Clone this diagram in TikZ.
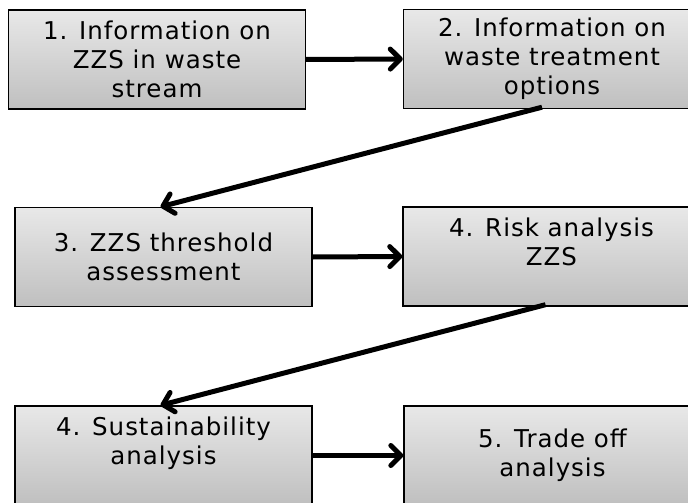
\documentclass[tikz,border=0pt]{standalone}
\usepackage{fontspec}
\newfontfamily\boxfont[LetterSpace=4]{DejaVu Sans}
\usetikzlibrary{arrows.meta}

\newcommand{\zzs}{ZZS}

\begin{document}
\begin{tikzpicture}[x=1pt,y=-1pt,
		stage/.style={draw,rectangle,line width=1.4pt,inner sep=0pt,
			minimum width=297pt,minimum height=99pt,align=center,
			top color=black!9,bottom color=black!25,
			font=\boxfont\fontsize{24.5}{29}\selectfont},
		flow/.style={line width=5pt,-{Straight Barb[length=10pt,width=20pt,line cap=round,line join=round]}}]
		\useasboundingbox (0,0) rectangle (688,503);
		\clip (0,0) rectangle (688,503);
		\node[stage] (Info) at (157, 59.5) {1. Information on\\ \zzs{} in waste\\ stream};
		\node[stage] (Opts) at (552, 59) {2. Information on\\ waste treatment\\ options};
		\node[stage] (Thr) at (163.5, 257) {3. \zzs{} threshold\\ assessment};
		\node[stage] (Risk) at (551.5, 256.5) {4. Risk analysis\\ \zzs\\ \mbox{}};
		\node[stage] (Sust) at (163.5, 455.5) {4. Sustainability\\ analysis\\ \mbox{}};
		\node[stage] (Trade) at (552.5, 455.5) {5. Trade off\\ analysis};
		\draw[flow] (Info.east) -- (Opts.west);
		\draw[flow] ([xshift=-10pt,yshift=2pt]Opts.south) -- ([xshift=-3pt]Thr.north);
		\draw[flow] (Thr.east) -- (Risk.west);
		\draw[flow] ([xshift=-6pt,yshift=2pt]Risk.south) -- ([xshift=-3pt]Sust.north);
		\draw[flow] (Sust.east) -- (Trade.west);
	\end{tikzpicture}
\end{document}
